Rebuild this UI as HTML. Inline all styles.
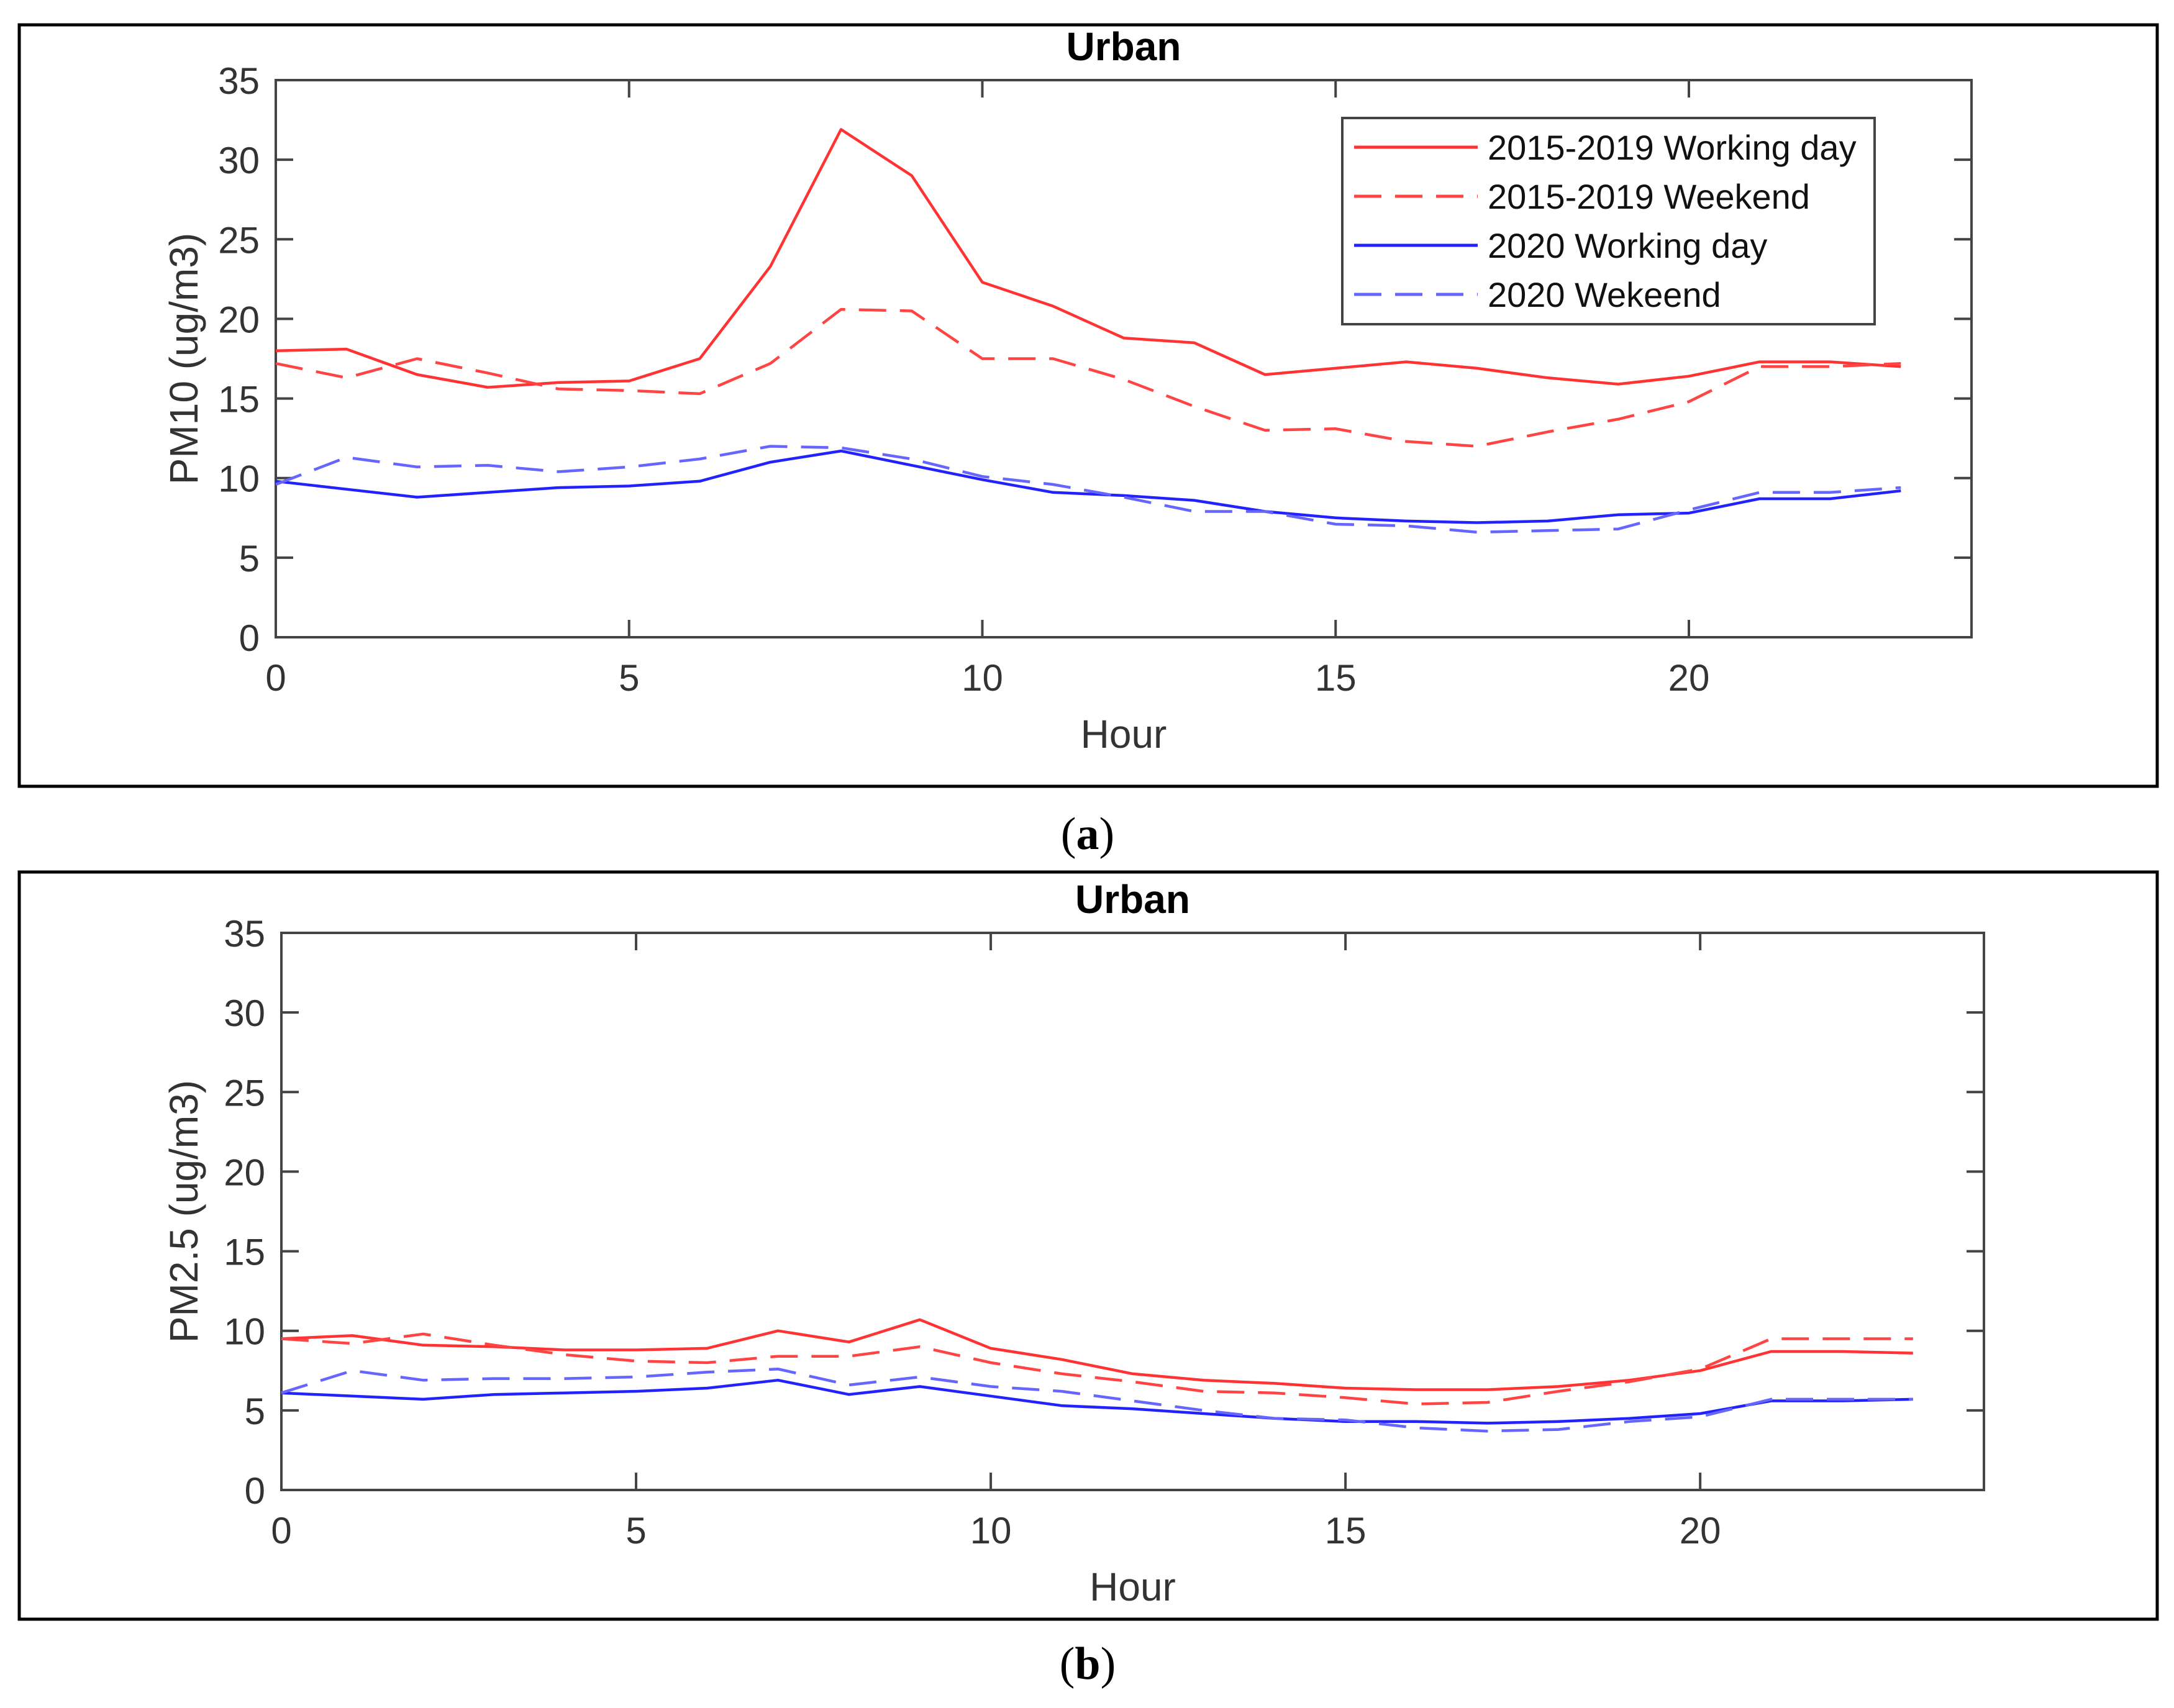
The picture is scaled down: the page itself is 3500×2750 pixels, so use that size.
<!DOCTYPE html>
<html><head><meta charset="utf-8">
<style>
html,body{margin:0;padding:0;background:#fff;}
svg{display:block;}
text{font-family:"Liberation Sans",Arial,sans-serif;}
</style></head>
<body>
<svg id="fig" xmlns="http://www.w3.org/2000/svg" width="3500" height="2750" viewBox="0 0 3500 2750">
<rect x="0" y="0" width="3500" height="2750" fill="#fff"/>
<rect x="31" y="40" width="3442" height="1226" fill="none" stroke="#000" stroke-width="5"/>
<rect x="31" y="1404" width="3442" height="1203" fill="none" stroke="#000" stroke-width="5"/>
<text x="1751" y="1367" text-anchor="middle" font-size="74" style="font-family:'Liberation Serif',serif">(<tspan font-weight="bold">a</tspan>)</text>
<text x="1751" y="2703" text-anchor="middle" font-size="74" style="font-family:'Liberation Serif',serif">(<tspan font-weight="bold">b</tspan>)</text>
<g id="pa"></g>
<g id="pb"></g>
</svg>
<script>
const hours = [0,1,2,3,4,5,6,7,8,9,10,11,12,13,14,15,16,17,18,19,20,21,22,23];
const xTicks = [0,5,10,15,20];
const yTicks = [0,5,10,15,20,25,30,35];
const seriesNames = ["2015-2019 Working day","2015-2019 Weekend","2020 Working day","2020 Wekeend"];
const pm10Hist = [18,18.1,16.5,15.7,16,16.1,17.5,23.3,31.9,29,22.3,20.8,18.8,18.5,16.5,16.9,17.3,16.9,16.3,15.9,16.4,17.3,17.3,17];
const pm10HistWe = [17.2,16.3,17.5,16.6,15.6,15.5,15.3,17.2,20.6,20.5,17.5,17.5,16.2,14.5,13,13.1,12.3,12,12.9,13.7,14.8,17,17,17.2];
const pm10Cur = [9.8,9.3,8.8,9.1,9.4,9.5,9.8,11,11.7,10.8,9.9,9.1,8.9,8.6,7.9,7.5,7.3,7.2,7.3,7.7,7.8,8.7,8.7,9.2];
const pm10CurWe = [9.6,11.3,10.7,10.8,10.4,10.7,11.2,12,11.9,11.2,10.1,9.6,8.8,7.9,7.9,7.1,7,6.6,6.7,6.8,8,9.1,9.1,9.4];
const pm25Hist = [9.5,9.7,9.1,9,8.8,8.8,8.9,10,9.3,10.7,8.9,8.2,7.3,6.9,6.7,6.4,6.3,6.3,6.5,6.9,7.5,8.7,8.7,8.6];
const pm25HistWe = [9.5,9.2,9.8,9.1,8.5,8.1,8.0,8.4,8.4,9.0,8.0,7.3,6.8,6.2,6.1,5.8,5.4,5.5,6.2,6.8,7.6,9.5,9.5,9.5];
const pm25Cur = [6.1,5.9,5.7,6.0,6.1,6.2,6.4,6.9,6.0,6.5,5.9,5.3,5.1,4.8,4.5,4.3,4.3,4.2,4.3,4.5,4.8,5.6,5.6,5.7];
const pm25CurWe = [6.1,7.5,6.9,7.0,7.0,7.1,7.4,7.6,6.6,7.1,6.5,6.2,5.6,5.0,4.5,4.4,3.9,3.7,3.8,4.3,4.6,5.7,5.7,5.7];

const NS = "http://www.w3.org/2000/svg";
function mk(tag, attrs, parent){
  const e = document.createElementNS(NS, tag);
  for (const k in attrs) e.setAttribute(k, attrs[k]);
  parent.appendChild(e);
  return e;
}
const styles = [
  {stroke:"#ff3333", dash:null},
  {stroke:"#ff4444", dash:"44 22"},
  {stroke:"#2222ff", dash:null},
  {stroke:"#6666ff", dash:"44 22"}
];

function drawChart(g, box, ylabel, series, legend, prefix){
  const xs = v => box.x0 + (v/24)*(box.x1-box.x0);
  const ys = v => box.y1 - (v/35)*(box.y1-box.y0);
  const t = mk("text",{x:(box.x0+box.x1)/2, y:box.y0-32, "text-anchor":"middle","font-size":"64","font-weight":"bold",fill:"#000"},g);
  t.textContent = "Urban";
  
  
  const r = mk("rect",{x:box.x0,y:box.y0,width:box.x1-box.x0,height:box.y1-box.y0,fill:"none",stroke:"#444","stroke-width":"4"},g);
  
  
  const tl = 28;
  yTicks.forEach(v=>{
    const y = ys(v);
    const tk = mk("path",{d:`M${box.x0} ${y}h${tl}M${box.x1} ${y}h${-tl}`,stroke:"#444","stroke-width":"4"},g);
    
    
    const lb = mk("text",{x:box.x0-26,y:y+22,"text-anchor":"end","font-size":"60",fill:"#333"},g);
    lb.textContent = v;
    
    
  });
  xTicks.forEach(v=>{
    const x = xs(v);
    const tk = mk("path",{d:`M${x} ${box.y1}v${-tl}M${x} ${box.y0}v${tl}`,stroke:"#444","stroke-width":"4"},g);
    
    
    const lb = mk("text",{x:x,y:box.y1+86,"text-anchor":"middle","font-size":"60",fill:"#333"},g);
    lb.textContent = v;
    
    
  });
  const xl = mk("text",{x:(box.x0+box.x1)/2,y:box.y1+178,"text-anchor":"middle","font-size":"64",fill:"#333"},g);
  xl.textContent = "Hour";
  
  
  const cy = (box.y0+box.y1)/2;
  const yl = mk("text",{x:0,y:0,"text-anchor":"middle","font-size":"64",fill:"#333",transform:`translate(318 ${cy}) rotate(-90)`},g);
  yl.textContent = ylabel;
  
  
  series.forEach((s,i)=>{
    const d = s.map((v,j)=>(j?"L":"M")+xs(hours[j]).toFixed(1)+" "+ys(v).toFixed(1)).join("");
    const p = mk("path",{d:d,fill:"none",stroke:styles[i].stroke,"stroke-width":"4.5","stroke-linejoin":"round"},g);
    if (styles[i].dash) p.setAttribute("stroke-dasharray", styles[i].dash);
    
    
  });
  if (legend){
    const lg = mk("g",{},g);
    
    
    mk("rect",{x:2161,y:190,width:857,height:332,fill:"#fff",stroke:"#444","stroke-width":"4"},lg);
    const ey = [237,316,395,474];
    seriesNames.forEach((n,i)=>{
      const ln = mk("line",{x1:2180,x2:2379,y1:ey[i],y2:ey[i],stroke:styles[i].stroke,"stroke-width":"5"},lg);
      if (styles[i].dash) ln.setAttribute("stroke-dasharray", styles[i].dash);
      
      
      const tx = mk("text",{x:2395,y:ey[i]+20,"font-size":"56",fill:"#111"},lg);
      tx.textContent = n;
      
      
    });
  }
}
drawChart(document.getElementById("pa"), {x0:444,x1:3174,y0:129,y1:1026}, "PM10 (ug/m3)", [pm10Hist,pm10HistWe,pm10Cur,pm10CurWe], true, "pm10");
drawChart(document.getElementById("pb"), {x0:453,x1:3194,y0:1502,y1:2399}, "PM2.5 (ug/m3)", [pm25Hist,pm25HistWe,pm25Cur,pm25CurWe], false, "pm25");
</script>
</body></html>
